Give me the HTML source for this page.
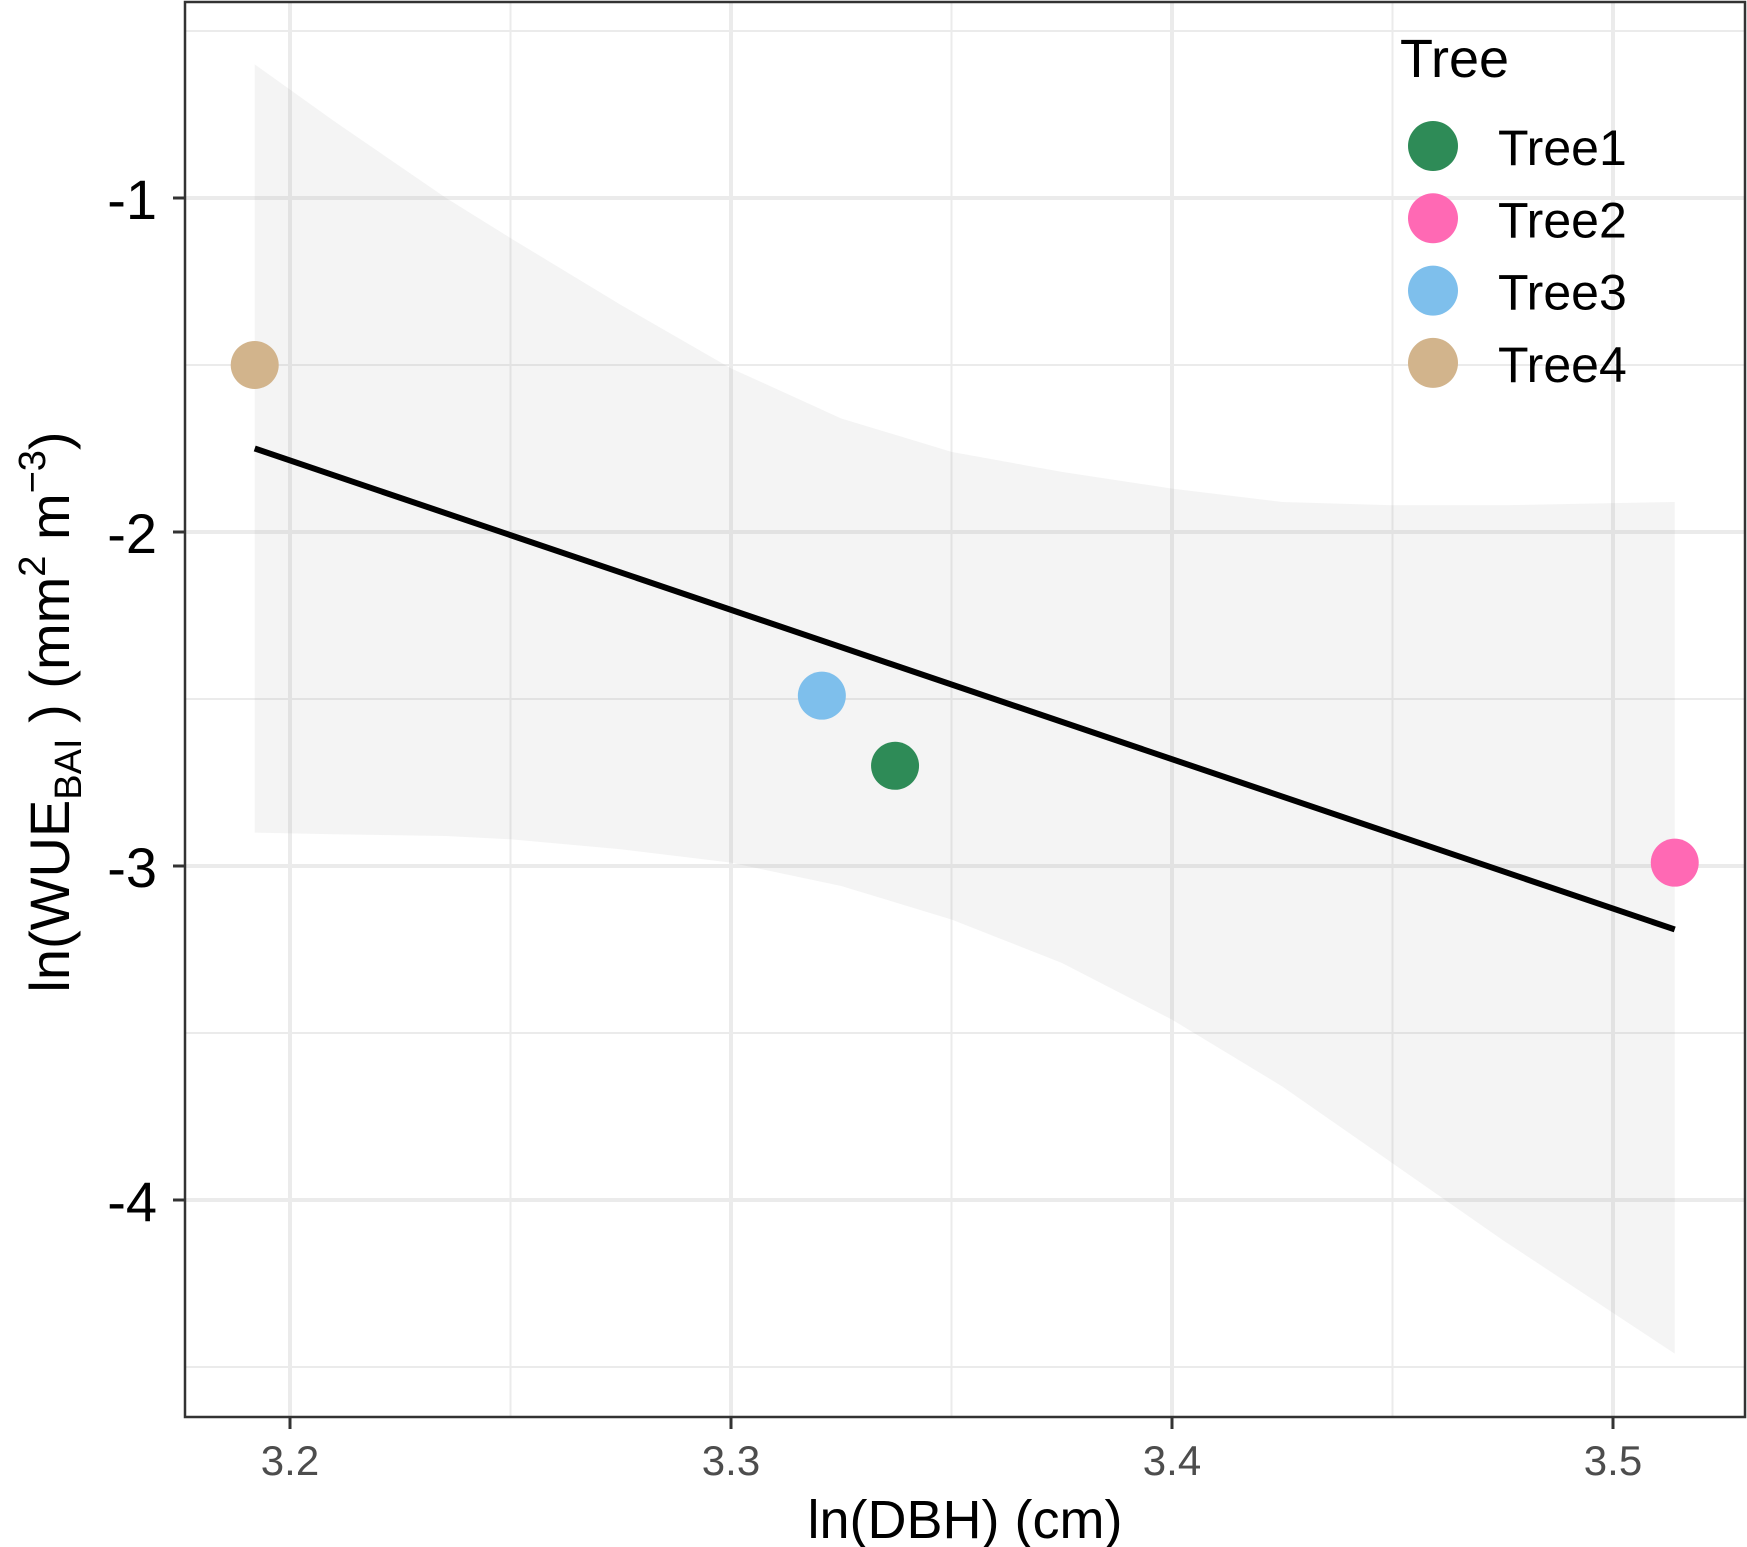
<!DOCTYPE html>
<html><head><meta charset="utf-8"><style>
html,body{margin:0;padding:0;background:#fff}
svg{display:block;font-family:"Liberation Sans",Arial,sans-serif}
</style></head><body>
<svg id="chart" width="1747" height="1547" viewBox="0 0 1747 1547">
<g id="grid"></g>
<g id="band"></g>
<g id="fit"></g>
<g id="pts"></g>
<g id="axes"></g>
<text x="965" y="1538" font-size="54" text-anchor="middle" fill="#000">ln(DBH) (cm)</text>
<text transform="translate(69,712) rotate(-90)" font-size="56" text-anchor="middle" fill="#000">ln(WUE<tspan font-size="38" dy="12">BAI</tspan><tspan dy="-12"> ) (mm</tspan><tspan font-size="38" dy="-24">2</tspan><tspan dy="24"> m</tspan><tspan font-size="38" dy="-24">−3</tspan><tspan dy="24">)</tspan></text>
<g id="legend">
<text x="1400" y="77" font-size="54" fill="#000">Tree</text>
</g>
</svg>
<script>
const categories = ["Tree1","Tree2","Tree3","Tree4"];
const colors = ["#2E8B57","#FF69B4","#7EBFEC","#D2B48C"];
const xValues = [3.3372, 3.514, 3.3206, 3.192];
const yValues = [-2.70, -2.99, -2.49, -1.50];
const fitX = [3.192, 3.514];
const fitY = [-1.75, -3.19];
const bandX = [3.192, 3.21, 3.2354, 3.25, 3.275, 3.30, 3.325, 3.35, 3.375, 3.40, 3.425, 3.45, 3.475, 3.514];
const bandUpper = [-0.60, -0.77, -1.00, -1.12, -1.32, -1.51, -1.66, -1.76, -1.82, -1.87, -1.91, -1.92, -1.92, -1.91];
const bandLower = [-2.90, -2.905, -2.91, -2.92, -2.95, -2.99, -3.06, -3.16, -3.29, -3.46, -3.66, -3.89, -4.12, -4.46];
const xTicks = [3.2, 3.3, 3.4, 3.5];
const xTickLabels = ["3.2","3.3","3.4","3.5"];
const xMinor = [3.25, 3.35, 3.45];
const yTicks = [-1, -2, -3, -4];
const yTickLabels = ["-1","-2","-3","-4"];
const yMinor = [-0.5, -1.5, -2.5, -3.5, -4.5];

const L=185,R=1745,T=2,B=1417;
const sx = v => 290 + (v-3.2)*4410;
const sy = v => 198 - (v+1)*334;
const NS="http://www.w3.org/2000/svg";
function mk(tag, parent, attrs){const e=document.createElementNS(NS,tag);for(const k in attrs)e.setAttribute(k,attrs[k]);parent.appendChild(e);return e;}

const grid=document.getElementById('grid');
mk('rect',grid,{x:L,y:T,width:R-L,height:B-T,fill:'#fff'});
xMinor.forEach(v=>{const l=mk('line',grid,{x1:sx(v),x2:sx(v),y1:T,y2:B,stroke:'#ebebeb','stroke-width':2});

});
yMinor.forEach(v=>{const l=mk('line',grid,{x1:L,x2:R,y1:sy(v),y2:sy(v),stroke:'#ebebeb','stroke-width':2});

});
xTicks.forEach(v=>{const l=mk('line',grid,{x1:sx(v),x2:sx(v),y1:T,y2:B,stroke:'#ebebeb','stroke-width':4});

});
yTicks.forEach(v=>{const l=mk('line',grid,{x1:L,x2:R,y1:sy(v),y2:sy(v),stroke:'#ebebeb','stroke-width':4});

});

const band=document.getElementById('band');
let d='M'+bandX.map((x,i)=>sx(x)+','+sy(bandUpper[i])).join(' L');
for(let i=bandX.length-1;i>=0;i--) d+=' L'+sx(bandX[i])+','+sy(bandLower[i]);
const bp=mk('path',band,{d:d+'Z',fill:'#999','fill-opacity':0.11,stroke:'none'});



const fit=document.getElementById('fit');
const fl=mk('line',fit,{x1:sx(fitX[0]),y1:sy(fitY[0]),x2:sx(fitX[1]),y2:sy(fitY[1]),stroke:'#000','stroke-width':6});



const pts=document.getElementById('pts');
categories.forEach((c,i)=>{const p=mk('circle',pts,{cx:sx(xValues[i]),cy:sy(yValues[i]),r:24,fill:colors[i]});

});

const axes=document.getElementById('axes');
mk('rect',axes,{x:L,y:T,width:R-L,height:B-T,fill:'none',stroke:'#333','stroke-width':2.5});
xTicks.forEach((v,i)=>{mk('line',axes,{x1:sx(v),x2:sx(v),y1:B,y2:B+12,stroke:'#333','stroke-width':3});
const t=mk('text',axes,{x:sx(v),y:1475,'font-size':42,'text-anchor':'middle',fill:'#4d4d4d'});t.textContent=xTickLabels[i];

});
yTicks.forEach((v,i)=>{mk('line',axes,{x1:L-12,x2:L,y1:sy(v),y2:sy(v),stroke:'#333','stroke-width':3});
const t=mk('text',axes,{x:157,y:sy(v)+21,'font-size':56,'text-anchor':'end',fill:'#000'});t.textContent=yTickLabels[i];

});

const leg=document.getElementById('legend');
categories.forEach((c,i)=>{const cy=146+i*72.3;
const k=mk('circle',leg,{cx:1433,cy:cy,r:25,fill:colors[i]});


const t=mk('text',leg,{x:1498,y:cy+19,'font-size':50,fill:'#000'});t.textContent=c;

});
</script>
</body></html>
